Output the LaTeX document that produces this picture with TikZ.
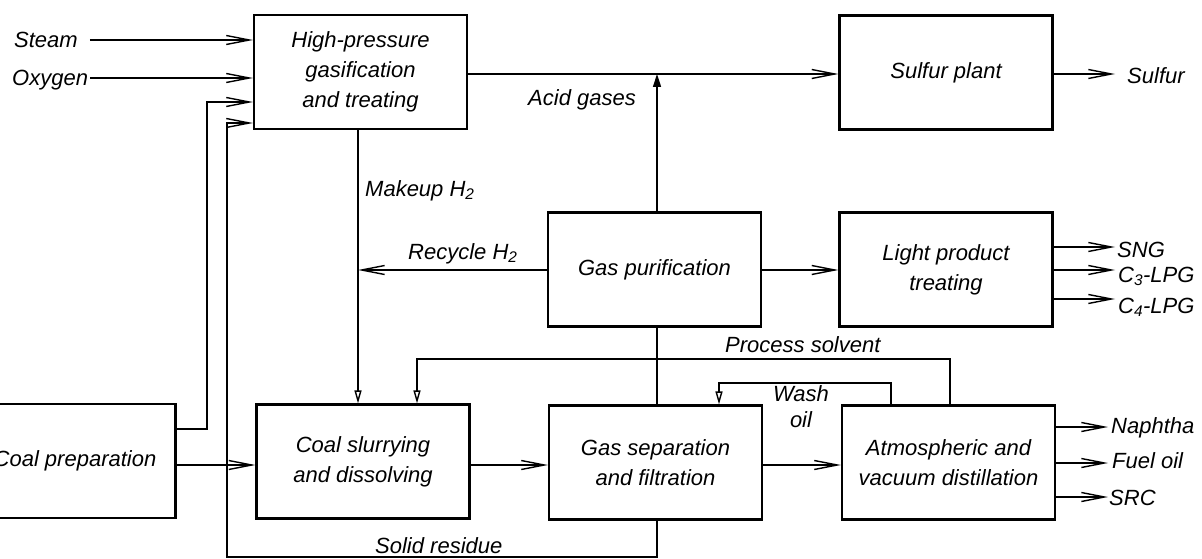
\documentclass[tikz,border=0pt]{standalone}
\usepackage{fontspec}
\setmainfont{Liberation Sans}
\usetikzlibrary{arrows.meta}
\begin{document}
\begin{tikzpicture}[x=1pt,y=-1pt,
  font=\fontsize{22}{30}\selectfont\itshape,
  box/.style={draw,line width=2.2pt,minimum width=213pt,minimum height=114pt,align=center,inner sep=0pt,fill=white},
  flow/.style={line width=1.6pt,-{Straight Barb[length=23pt,width=9pt,line width=1.4pt]}},
  down/.style={line width=1.6pt,-{Triangle[open,length=13pt,width=7pt,line width=1.4pt]}},
  up/.style={line width=1.6pt,-{Triangle[length=13pt,width=8pt]}},
  plain/.style={line width=1.6pt},
  lbl/.style={inner sep=0pt,anchor=base west}]
\clip (0,0) rectangle (1202,559);
\fill[white] (0,0) rectangle (1202,559);

% boxes
\node[box] (hp)   at (360.5,72)  {High-pressure\\gasification\\and treating};
\node[box] (sulf) at (946,72.5)  {Sulfur plant};
\node[box] (gp)   at (654.5,269.5) {Gas purification};
\node[box] (lpt)  at (946,269.5) {Light product\\treating};
\node[box] (cp)   at (69,461)    {\hspace*{12pt}Coal preparation};
\node[box] (cs)   at (363,461.5) {Coal slurrying\\and dissolving};
\node[box] (gs)   at (655.5,462.5) {Gas separation\\and filtration};
\node[box] (ad)   at (948.5,462.5) {Atmospheric and\\vacuum distillation};

% levels
\coordinate (ySteam) at (0,40);
\coordinate (yOxy) at (0,78);
\coordinate (yF1) at (0,102);
\coordinate (yF2) at (0,123);
\coordinate (yAcid) at (0,74);
\coordinate (yRec) at (0,270);
\coordinate (ySNG) at (0,247);
\coordinate (yC3) at (0,270);
\coordinate (yC4) at (0,299);
\coordinate (yPS) at (0,359);
\coordinate (yWO) at (0,383);
\coordinate (yF1b) at (0,429);
\coordinate (yMain) at (0,465);
\coordinate (yNap) at (0,427);
\coordinate (yFuel) at (0,463);
\coordinate (ySRC) at (0,497);
\coordinate (yBot) at (0,557);
\coordinate (xF1) at (207,0);
\coordinate (xF2) at (227,0);
\coordinate (xMk) at (358,0);
\coordinate (xPS) at (417,0);
\coordinate (xAG) at (657,0);
\coordinate (xWO1) at (719,0);
\coordinate (xWO2) at (891,0);
\coordinate (xPS2) at (950,0);
\coordinate (xOut) at (1115,0);
\coordinate (xOut2) at (1108,0);

% labels
\node[lbl] (steam) at (14,48) {Steam};
\node[lbl] (oxy) at (12,86) {Oxygen};
\node[lbl] (mkl) at (365,196) {Makeup H\textsubscript{2}};
\node[lbl] (agl) at (528,106) {Acid gases};
\node[lbl] (rcl) at (408,259) {Recycle H\textsubscript{2}};
\node[lbl] (sfl) at (1127,84) {Sulfur};
\node[lbl] (sng) at (1117,257) {SNG};
\node[lbl] (c3) at (1118,282) {C\textsubscript{3}-LPG};
\node[lbl] (c4) at (1118,313) {C\textsubscript{4}-LPG};
\node[lbl] (psl) at (725,352) {Process solvent};
\node[align=center,inner sep=0pt,font=\fontsize{22}{26}\selectfont\itshape] (wol) at (801,407) {Wash\\oil};
\node[lbl] (srl) at (375,553) {Solid residue};
\node[lbl] (nap) at (1111,433) {Naphtha};
\node[lbl] (fuel) at (1112,468) {Fuel oil};
\node[lbl] (src) at (1109,505) {SRC};

% connectors
\draw[flow] (steam.east |- ySteam) ++(12,0) -- (hp.west |- ySteam);
\draw[flow] (oxy.east |- yOxy) ++(2,0) -- (hp.west |- yOxy);
\draw[flow] (cp.east |- yF1b) -- (xF1 |- yF1b) -- (xF1 |- yF1) -- (hp.west |- yF1);
\draw[flow] (gs.south -| xAG) -- (xAG |- yBot) -- (xF2 |- yBot) -- (xF2 |- yF2) -- (hp.west |- yF2);
\draw[flow] (hp.east |- yAcid) -- (sulf.west |- yAcid);
\draw[flow] (sulf.east |- yAcid) -- (xOut |- yAcid);
\draw[up] (gp.north -| xAG) -- (xAG |- yAcid);
\draw[down] (hp.south -| xMk) -- (cs.north -| xMk);
\draw[flow] (gp.west |- yRec) -- (xMk |- yRec);
\draw[flow] (gp.east |- yRec) -- (lpt.west |- yRec);
\draw[flow] (lpt.east |- ySNG) -- (xOut |- ySNG);
\draw[flow] (lpt.east |- yC3) -- (xOut |- yC3);
\draw[flow] (lpt.east |- yC4) -- (xOut |- yC4);
\draw[plain] (gs.north -| xAG) -- (gp.south -| xAG);
\draw[down] (ad.north -| xPS2) -- (xPS2 |- yPS) -- (xPS |- yPS) -- (cs.north -| xPS);
\draw[down] (ad.north -| xWO2) -- (xWO2 |- yWO) -- (xWO1 |- yWO) -- (gs.north -| xWO1);
\draw[flow] (cp.east |- yMain) -- (cs.west |- yMain);
\draw[flow] (cs.east |- yMain) -- (gs.west |- yMain);
\draw[flow] (gs.east |- yMain) -- (ad.west |- yMain);
\draw[flow] (ad.east |- yNap) -- (xOut2 |- yNap);
\draw[flow] (ad.east |- yFuel) -- (xOut2 |- yFuel);
\draw[flow] (ad.east |- ySRC) -- (xOut2 |- ySRC);
\end{tikzpicture}
\end{document}
